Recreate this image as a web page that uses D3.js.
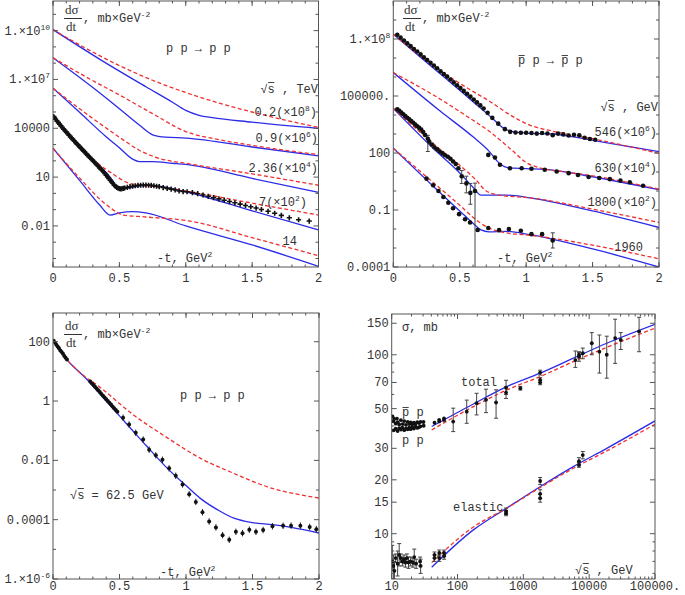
<!DOCTYPE html>
<html><head><meta charset="utf-8">
<script src="https://cdn.jsdelivr.net/npm/d3@7/dist/d3.min.js"></script>
<style>
body{margin:0;background:#fff}
svg text{font-family:"Liberation Mono","DejaVu Sans Mono",monospace;font-size:12px;fill:#333}
</style></head><body>
<svg id="c" width="685" height="595"></svg>
<script>
// ---------------- DATA ----------------
// Panel 1: pp -> pp, dσ/dt vs -t (scaled)
const pp02Blue = [[0,1.15e10],[0.35,1.78e8],[0.7,3.55e6],[0.9,3.98e5],[1.0,1.26e5],[1.1,6.31e4],[1.2,4.47e4],[1.5,2.4e4],[2,1.0e4]];
const pp02Red  = [[0,1.15e10],[0.25,7.94e8],[0.5,7.08e7],[0.75,8.91e6],[1,1.58e6],[1.25,3.55e5],[1.5,1.0e5],[1.75,3.16e4],[2,1.15e4]];
const pp09Blue = [[0,2.14e8],[0.3,3.16e6],[0.5,1.58e5],[0.65,1.58e4],[0.75,3.98e3],[0.85,2.82e3],[1.0,2.51e3],[1.5,708],[2,200]];
const pp09Red  = [[0,2.14e8],[0.25,1.41e7],[0.5,1.12e6],[0.75,7.94e4],[1.0,6.31e3],[1.25,2.0e3],[1.5,891],[2,240]];
const pp236Blue= [[0,2.88e6],[0.2,9.55e4],[0.4,3.02e3],[0.5,631],[0.6,126],[0.65,89.1],[0.75,89.1],[0.9,70.8],[1.0,60.3],[1.5,8.32],[2,1.15]];
const pp236Red = [[0,2.88e6],[0.3,3.98e4],[0.5,2.82e3],[0.65,447],[0.8,141],[1.0,70.8],[1.5,15.8],[2,3.16]];
const pp7Blue  = [[0,5.89e4],[0.15,2.0e3],[0.3,112],[0.43,10],[0.48,2.51],[0.52,1.91],[0.58,2.24],[0.7,3.16],[0.8,2.82],[1.0,1.26],[1.5,0.0851],[2,0.00575]];
const pp7Red   = [[0,5.89e4],[0.15,2.0e3],[0.3,126],[0.45,15.8],[0.55,5.01],[0.65,3.16],[0.8,2.51],[1.0,1.41],[1.5,0.251],[2,0.0468]];
const pp14Blue = [[0,589],[0.2,6.31],[0.35,0.2],[0.43,0.0468],[0.5,0.0631],[0.6,0.0759],[0.7,0.0631],[1.0,0.01],[1.5,6.76e-4],[2,3.31e-5]];
const pp14Red  = [[0,589],[0.2,8.91],[0.405,0.191],[0.53,0.0468],[0.7,0.0355],[1.03,0.02],[1.5,0.0019],[2,1.48e-4]];
const pp7Data = [[0.005,5.25e4],[0.01,4.57e4],[0.02,3.55e4],[0.03,2.82e4],[0.04,2.24e4],[0.05,1.78e4],[0.06,1.41e4],[0.07,1.12e4],[0.08,8.91e3],[0.09,7.24e3],[0.10,5.89e3],[0.11,4.79e3],[0.12,3.8e3],[0.13,3.09e3],[0.14,2.51e3],[0.15,2.04e3],[0.16,1.66e3],[0.17,1.35e3],[0.18,1.1e3],[0.19,912],[0.20,741],[0.21,603],[0.22,501],[0.23,407],[0.24,339],[0.25,275],[0.26,224],[0.27,186],[0.28,155],[0.29,126],[0.30,105],[0.31,87.1],[0.32,70.8],[0.33,57.5],[0.34,46.8],[0.35,38.0],[0.36,31.6],[0.37,26.3],[0.38,21.4],[0.39,16.6],[0.40,13.2],[0.41,10.5],[0.42,8.32],[0.43,6.61],[0.44,5.25],[0.45,4.17],[0.46,3.31],[0.47,2.75],[0.48,2.34],[0.49,2.09],[0.50,1.95],[0.51,1.91],[0.52,1.95],[0.53,2.04],[0.54,2.14],[0.56,2.34],[0.58,2.57],[0.60,2.75],[0.62,2.95],[0.64,3.09],[0.66,3.16],[0.68,3.24],[0.70,3.24],[0.72,3.16],[0.74,3.09],[0.76,2.95],[0.78,2.75],[0.80,2.57],[0.83,2.29],[0.86,2.04],[0.89,1.82],[0.92,1.62],[0.95,1.41],[0.98,1.3],[1.01,1.26],[1.05,1.12],[1.09,0.955],[1.13,0.794],[1.17,0.661],[1.21,0.55],[1.25,0.457],[1.29,0.38],[1.33,0.316],[1.37,0.263],[1.41,0.219],[1.45,0.182],[1.49,0.151],[1.53,0.126],[1.57,0.102],[1.62,0.0794],[1.67,0.0603],[1.72,0.0447],[1.78,0.0316],[1.85,0.024],[1.93,0.02]];

// Panel 2: pbar p -> pbar p
const pb546Blue = [[0,1.78e8],[0.2,1.17e7],[0.4,7.94e5],[0.6,5.01e4],[0.75,6.31e3],[0.83,2.0e3],[0.9,1.32e3],[1.0,1.12e3],[1.2,1.0e3],[1.4,631],[1.6,355],[2,117]];
const pb546Red  = [[0,1.78e8],[0.35,2.24e6],[0.55,2.82e5],[0.73,5.01e4],[0.88,1.0e4],[1.03,2.88e3],[1.2,1.41e3],[1.5,562],[2,95.5]];
const pb630Blue = [[0,1.7e6],[0.35,1.66e4],[0.6,708],[0.72,126],[0.8,28.2],[0.87,16.6],[1.0,15.1],[1.2,12.6],[1.5,5.62],[2,1.17]];
const pb630Red  = [[0,1.7e6],[0.35,7.08e4],[0.55,8.91e3],[0.73,1.26e3],[0.9,126],[1.0,31.6],[1.1,16.6],[1.3,10],[1.5,6.31],[2,1.26]];
const pb1800Blue= [[0,2.24e4],[0.3,178],[0.5,8.91],[0.6,1.58],[0.66,0.603],[0.72,0.603],[0.85,0.603],[1.03,0.437],[1.5,0.0891],[2,0.012]];
const pb1800Red = [[0,2.24e4],[0.3,316],[0.5,22.4],[0.62,3.98],[0.7,1.0],[0.8,0.603],[1.03,0.437],[1.5,0.112],[2,0.0219]];
const pb1960Blue= [[0,178],[0.3,1.78],[0.5,0.0891],[0.6,0.02],[0.66,0.00891],[0.72,0.00708],[0.85,0.00759],[1.03,0.00501],[1.5,8.91e-4],[2,1e-4]];
const pb1960Red = [[0,178],[0.3,2.82],[0.5,0.178],[0.62,0.0316],[0.72,0.0112],[0.85,0.00631],[1.03,0.00468],[1.5,0.00141],[2,2.69e-4]];
const pb546Data = [[0.03,1.66e8],[0.055,1.18e8],[0.08,8.3e7],[0.105,5.9e7],[0.13,4.2e7],[0.155,3.0e7],[0.18,2.2e7],[0.205,1.55e7],[0.23,1.1e7],[0.255,7.9e6],[0.28,5.6e6],[0.305,4.0e6],[0.33,2.9e6],[0.355,2.0e6],[0.38,1.45e6],[0.405,1.05e6],[0.43,7.4e5],[0.455,5.2e5],[0.48,3.7e5],[0.505,2.6e5],[0.53,1.86e5],[0.555,1.32e5],[0.58,9.3e4],[0.605,6.6e4],[0.63,4.6e4],[0.655,3.2e4],[0.68,2.2e4],[0.71,1.3e4],[0.745,7.1e3],[0.79,3.5e3],[0.84,1.8e3],[0.88,1.3e3],[0.92,1.2e3],[0.96,1.17e3],[1.0,1.17e3],[1.04,1.12e3],[1.08,1.05e3],[1.12,1.12e3],[1.16,1.07e3],[1.2,870],[1.24,1.05e3],[1.28,950],[1.32,830],[1.36,910],[1.4,850],[1.44,630],[1.48,550],[1.52,500]];
const pb630Data = [[0.715,79.4],[0.765,57.5],[0.803,24.0],[0.878,15.8],[0.966,15.8],[1.04,14.8],[1.14,13.2],[1.23,10.7],[1.32,8.7],[1.39,6.9],[1.47,5.5],[1.55,4.8],[1.63,4.2],[1.71,3.5],[1.78,2.9],[1.88,1.9]];
const pb1800Data = [[0.03,2.0e4],[0.045,1.66e4],[0.06,1.35e4],[0.075,1.1e4],[0.09,8.9e3],[0.105,7.2e3],[0.12,5.9e3],[0.135,4.8e3],[0.15,3.9e3],[0.165,3.16e3],[0.18,2.57e3],[0.195,2.09e3],[0.21,1.7e3],[0.225,1.26e3],[0.24,891],[0.26,562],[0.27,398],[0.29,282],[0.31,200],[0.33,158],[0.35,120],[0.37,95.5],[0.39,75.9],[0.41,63.1],[0.43,50.1],[0.45,35.5],[0.47,26.3],[0.49,15.8],[0.515,5.89],[0.55,2.51],[0.58,0.794],[0.615,1.0]];
const pb1800Err = [[0.26,562,120,850],[0.515,5.89,2.5,12],[0.55,2.51,0.8,6],[0.58,0.794,0.2,2.5],[0.615,1.0,1e-5,2.6]];
const pb1960Data = [[0.25,4.47],[0.3,2.0],[0.34,1.0],[0.377,0.479],[0.414,0.24],[0.45,0.123],[0.495,0.0603],[0.54,0.0324],[0.578,0.0219],[0.635,0.00891],[0.715,0.0112],[0.796,0.00871],[0.87,0.01],[0.96,0.00813],[1.04,0.00537],[1.12,0.00537],[1.2,0.00251]];
const pb1960Err = [[1.2,0.00251,0.001,0.00631]];

// Panel 3: pp at 62.5 GeV
const isrBlue = [[0,115],[0.1,26.3],[0.25,5.62],[0.4,1.0],[0.5,0.316],[0.6,0.1],[0.7,0.0316],[0.86,0.00537],[1.0,0.00141],[1.11,5.13e-4],[1.25,2.0e-4],[1.36,1.12e-4],[1.5,7.94e-5],[1.65,6.76e-5],[1.8,5.37e-5],[2,3.55e-5]];
const isrRed  = [[0,115],[0.1,26.3],[0.2,9.33],[0.355,2.88],[0.6,0.355],[0.86,0.0575],[1.11,0.0117],[1.36,0.00363],[1.61,0.00129],[2,5.37e-4]];
const isrData = [[0.005,107],[0.015,93],[0.025,79],[0.035,69],[0.045,60],[0.055,51],[0.065,45],[0.075,39],[0.085,33],[0.095,29],[0.105,25],
 [0.28,4.57],[0.292,3.98],[0.304,3.47],[0.316,3.02],[0.328,2.63],[0.34,2.29],[0.352,2.0],[0.364,1.74],[0.376,1.51],[0.388,1.32],[0.4,1.15],[0.412,1.0],[0.424,0.871],[0.436,0.759],[0.448,0.661],[0.46,0.575],[0.472,0.501],[0.484,0.437],
 [0.527,0.275],[0.572,0.162],[0.622,0.0851],[0.678,0.0501],[0.723,0.0229],[0.773,0.0148],[0.823,0.0105],[0.873,0.00537],[0.923,0.00302],[0.974,0.00155],[1.024,7.24e-4],[1.074,3.98e-4],[1.124,1.78e-4],[1.174,8.71e-5],[1.225,5.5e-5],[1.275,3.0e-5],[1.325,2.1e-5],[1.375,3.9e-5],[1.425,3.5e-5],[1.476,4.6e-5],[1.526,3.9e-5],[1.58,4.5e-5],[1.65,6.0e-5],[1.73,6.2e-5],[1.79,6.3e-5],[1.86,6.3e-5],[1.93,5.7e-5],[1.98,4.8e-5]];

// Panel 4: σ vs √s
const totBlue = [[40.5,39.7],[174,53.1],[560,66.4],[1795,78.9],[5750,95.7],[18500,116],[100000,148]];
const totRed  = [[40.5,38.0],[174,51.3],[560,63.6],[1795,75.5],[5750,91.6],[18500,110],[100000,141]];
const elBlue  = [[40.5,6.49],[174,10.5],[560,13.9],[1795,18.3],[5750,23.7],[18500,30.0],[100000,42.7]];
const elRed   = [[40.5,6.89],[174,10.9],[560,13.9],[1795,18.1],[5750,23.2],[18500,29.0],[100000,40.9]];
const totPP   = [[10.7,37.8],[11.5,38.6],[12.3,37.5],[13.0,38.9],[13.8,38.2],[14.5,39.2],[15.5,37.9],[16.5,38.8],[17.5,38.3],[18.5,39.1],[19.4,38.4],[20.5,39.3],[21.7,38.7],[23.0,39.6],[24.5,39.0],[26.0,39.4],[27.4,39.8],[30.6,40.1],[44.7,41.7],[52.8,42.4],[62.5,43.2]];
const totPPbar= [[10.3,45.2],[10.6,42.5],[10.9,43.8],[11.5,41.2],[12.0,44.0],[12.3,42.0],[13.0,40.8],[13.8,43.1],[14.7,41.0],[15.5,42.6],[16.5,40.6],[17.5,42.2],[18.5,41.0],[19.4,41.9],[20.5,40.7],[21.7,41.7],[23.0,41.2],[24.5,42.0],[26.0,41.5],[27.4,42.2],[30.4,42.1],[52.6,43.3],[62.3,44.1]];
const totHigh = [[86,42.3,37.2,50.3],[138,48.1,41.4,55.8],[195,53.6,46.1,60.9],[271,56,47.5,64.2],[385,54.1,44.2,63.7],[546,61.5,57,66],[546,65.5,60,72],[900,65,63.5,66.5],[1800,79.5,77,82],[1800,72.4,70,74.5],[1800,70,68,72],[6170,93.4,85,105],[7000,97.8,92,104],[7000,100,96,103],[8000,102,95,109],[10960,116,100,133],[14300,104,79,129],[18500,100,74,127],[24800,124,89.5,158],[30200,121,107,133],[57300,135,104,162]];
const elData  = [[10.2,7.0,6.2,8.6],[10.6,6.6,5.6,7.6],[11.0,6.2,5.4,7.0],[11.5,7.3,6.9,7.7],[12.3,6.8,5.8,8.0],[13.0,7.6,6.6,8.8],[13.7,7.3,6.9,7.7],[14.5,7.0,6.6,7.4],[15.4,7.2,6.8,7.6],[16.2,6.9,6.5,7.3],[17.0,7.3,6.9,7.7],[18.0,6.9,6.4,7.4],[19.4,7.0,6.6,7.4],[21.0,6.9,6.5,7.3],[22.0,7.4,6.7,8.2],[23.5,6.8,6.4,7.2],[27.0,7.0,6.6,7.4],[27.5,6.6,6.0,7.2],[44.7,7.3,7.0,7.6],[44.7,7.6,7.3,7.9],[52.8,7.3,7.0,7.6],[52.8,7.8,7.5,8.1],[62.5,7.5,7.2,7.8],[62.5,7.8,7.5,8.1],[546,13.3,12.8,13.9],[546,13.0,12.6,13.5],[1800,19.7,18.8,20.6],[1800,16.7,15.8,17.6],[1800,15.8,15.0,16.6],[7000,25.4,24.2,26.6],[7000,24.2,23.5,24.9],[8000,27.5,26.2,28.8]];

// Tick labels
const tTicks = [[0,"0"],[0.5,"0.5"],[1,"1"],[1.5,"1.5"],[2,"2"]];
const p1YTicks = [[1e10,"1.×10","10"],[1e7,"1.×10","7"],[1e4,"10000"],[10,"10"],[0.01,"0.01"]];
const p2YTicks = [[1e8,"1.×10","8"],[1e5,"100000."],[100,"100"],[0.1,"0.1"],[1e-4,"0.0001"]];
const p3YTicks = [[100,"100"],[1,"1"],[0.01,"0.01"],[1e-4,"0.0001"],[1e-6,"1.×10","-6"]];
const p4YTicks = [[10,"10"],[15,"15"],[20,"20"],[30,"30"],[50,"50"],[70,"70"],[100,"100"],[150,"150"]];
const p4XTicks = [[10,"10"],[100,"100"],[1000,"1000"],[10000,"10000"],[100000,"100000."]];

// ---------------- DRAW ----------------
const svg = d3.select('#c');
const defs = svg.append('defs');
const BLUE = '#2b2be8', RED = '#f03030', FR = '#555';
let cid = 0;

function makePanel(c){
  const x = (c.xlog ? d3.scaleLog() : d3.scaleLinear()).domain(c.xd).range([c.l, c.r]);
  const y = d3.scaleLog().domain(c.yd).range([c.b, c.t]);
  const id = 'cp' + (cid++);
  defs.append('clipPath').attr('id', id).append('rect')
    .attr('x', c.l).attr('y', c.t).attr('width', c.r - c.l).attr('height', c.b - c.t);
  const g = svg.append('g');
  const plot = g.append('g').attr('clip-path', `url(#${id})`);
  return Object.assign({}, c, {x, y, g, plot});
}
function frame(p){
  p.g.append('rect').attr('x', p.l).attr('y', p.t).attr('width', p.r - p.l).attr('height', p.b - p.t)
    .attr('fill', 'none').attr('stroke', FR).attr('stroke-width', 1);
}
function xTicks(p, vals, len){
  vals.forEach(v => { const xx = p.x(v);
    p.g.append('line').attr('x1', xx).attr('x2', xx).attr('y1', p.b).attr('y2', p.b - len).attr('stroke', FR);
    p.g.append('line').attr('x1', xx).attr('x2', xx).attr('y1', p.t).attr('y2', p.t + len).attr('stroke', FR);
  });
}
function yTicks(p, vals, len){
  vals.forEach(v => { const yy = p.y(v);
    p.g.append('line').attr('x1', p.l).attr('x2', p.l + len).attr('y1', yy).attr('y2', yy).attr('stroke', FR);
    p.g.append('line').attr('x1', p.r).attr('x2', p.r - len).attr('y1', yy).attr('y2', yy).attr('stroke', FR);
  });
}
function xLabels(p, ticks, yb){
  ticks.forEach(d => p.g.append('text').attr('x', p.x(d[0])).attr('y', yb).attr('text-anchor', 'middle').text(d[1]));
}
function yLabels(p, ticks){
  ticks.forEach(d => {
    const t = p.g.append('text').attr('x', p.l - 3).attr('y', p.y(d[0]) + 4).attr('text-anchor', 'end');
    t.append('tspan').text(d[1]);
    if (d[2]) t.append('tspan').attr('dy', -5).attr('font-size', 8).text(d[2]);
  });
}
function curve(p, data, color, dashed){
  const line = d3.line().x(d => p.x(d[0])).y(d => p.y(d[1])).curve(d3.curveMonotoneX);
  p.plot.append('path').attr('d', line(data)).attr('fill', 'none').attr('stroke', color)
    .attr('stroke-width', 1.3).attr('stroke-dasharray', dashed ? '4,2.5' : null);
}
function dots(p, data, r){
  p.plot.selectAll(null).data(data).enter().append('circle')
    .attr('cx', d => p.x(d[0])).attr('cy', d => p.y(d[1])).attr('r', r).attr('fill', '#111');
}
function crosses(p, data, s){
  p.plot.selectAll(null).data(data).enter().append('path')
    .attr('d', d => { const X = p.x(d[0]), Y = p.y(d[1]); return `M${X-s},${Y}h${2*s}M${X},${Y-s}v${2*s}`; })
    .attr('stroke', '#111').attr('stroke-width', 1.6);
}
function errs(p, data){
  data.forEach(d => { const X = p.x(d[0]);
    p.plot.append('line').attr('x1', X).attr('x2', X).attr('y1', p.y(d[2])).attr('y2', p.y(d[3])).attr('stroke', '#444').attr('stroke-width', 1);
    [d[2], d[3]].forEach(v => p.plot.append('line').attr('x1', X - 2).attr('x2', X + 2).attr('y1', p.y(v)).attr('y2', p.y(v)).attr('stroke', '#444'));
  });
}
function minibars(p, data, h){
  p.plot.selectAll(null).data(data).enter().append('line')
    .attr('x1', d => p.x(d[0])).attr('x2', d => p.x(d[0]))
    .attr('y1', d => p.y(d[1]) - h).attr('y2', d => p.y(d[1]) + h).attr('stroke', '#222');
}
function txt(g, x, y, s, anchor){
  return g.append('text').attr('x', x).attr('y', y).attr('text-anchor', anchor || 'start').attr('fill', '#444').text(s);
}
function txtSup(g, x, y, a, sup, b, anchor){
  const t = g.append('text').attr('x', x).attr('y', y).attr('text-anchor', anchor || 'start').attr('fill', '#444');
  t.append('tspan').text(a);
  t.append('tspan').attr('dy', -5).attr('font-size', 8).text(sup);
  if (b) t.append('tspan').attr('dy', 5).text(b);
  return t;
}
function overline(g, t, idx, yb){
  const e = t.node().getExtentOfChar(idx);
  g.append('line').attr('x1', e.x + 0.5).attr('x2', e.x + e.width - 0.5).attr('y1', yb).attr('y2', yb).attr('stroke', '#444').attr('stroke-width', 1);
}
function sqrtS(g, x, y, rest, anchor){
  const t = txt(g, x, y, '√s' + rest, anchor);
  overline(g, t, 1, y - 10.5);
  return t;
}
function dsdt(g, x, yb){
  g.append('text').attr('x', x).attr('y', yb).style('font-family', 'Liberation Serif, serif').style('font-size', '13px').attr('fill', '#333').text('dσ');
  g.append('line').attr('x1', x - 1).attr('x2', x + 17).attr('y1', yb + 4.5).attr('y2', yb + 4.5).attr('stroke', '#333');
  g.append('text').attr('x', x + 1).attr('y', yb + 17).style('font-family', 'Liberation Serif, serif').style('font-size', '13px').attr('fill', '#333').text('dt');
  txtSup(g, x + 18, yb + 8, ', mb×GeV', '-2');
}

const tMinor = d3.range(0, 2.001, 0.1);
const tMajor = tTicks.map(d => d[0]);

// ---- Panel 1 ----
const P1 = makePanel({l: 53, r: 318.5, t: 1, b: 267, xd: [0, 2], yd: [3.0e-5, 6.6e11]});
[[pp02Blue, pp02Red], [pp09Blue, pp09Red], [pp236Blue, pp236Red], [pp7Blue, pp7Red], [pp14Blue, pp14Red]].forEach(pr => { curve(P1, pr[0], BLUE, false); curve(P1, pr[1], RED, true); });
crosses(P1, pp7Data, 2.6);
frame(P1);
xTicks(P1, tMinor, 2.5); xTicks(P1, tMajor, 5);
yTicks(P1, [1e11, 1e9, 1e8, 1e6, 1e5, 1000, 100, 1, 0.1, 0.001, 1e-4], 3);
yTicks(P1, p1YTicks.map(d => d[0]), 5);
xLabels(P1, tTicks, 282);
yLabels(P1, p1YTicks);
dsdt(P1.g, 65, 14);
txt(P1.g, 166, 52, 'p p → p p');
sqrtS(P1.g, 318, 93, ' , TeV', 'end');
txtSup(P1.g, 317, 116, '0.2(×10', '8', ')', 'end');
txtSup(P1.g, 318, 142, '0.9(×10', '6', ')', 'end');
txtSup(P1.g, 318, 172, '2.36(×10', '4', ')', 'end');
txtSup(P1.g, 307, 206, '7(×10', '2', ')', 'end');
txt(P1.g, 297, 245, '14', 'end');
txtSup(P1.g, 157, 262, '-t, GeV', '2');

// ---- Panel 2 ----
const P2 = makePanel({l: 393.3, r: 659, t: 1, b: 267, xd: [0, 2], yd: [1e-4, 1e10]});
[[pb546Blue, pb546Red], [pb630Blue, pb630Red], [pb1800Blue, pb1800Red], [pb1960Blue, pb1960Red]].forEach(pr => { curve(P2, pr[0], BLUE, false); curve(P2, pr[1], RED, true); });
errs(P2, pb1800Err); errs(P2, pb1960Err);
dots(P2, pb546Data, 2.3); dots(P2, pb630Data, 2.3); dots(P2, pb1800Data, 2.3); dots(P2, pb1960Data, 2.3);
frame(P2);
xTicks(P2, tMinor, 2.5); xTicks(P2, tMajor, 5);
yTicks(P2, [1e9, 1e7, 1e6, 1e4, 1000, 10, 1, 0.01, 0.001], 3);
yTicks(P2, p2YTicks.map(d => d[0]), 5);
xLabels(P2, tTicks, 282);
yLabels(P2, p2YTicks);
dsdt(P2.g, 404, 14);
{ const t = txt(P2.g, 518, 64, 'p p → p p'); overline(P2.g, t, 0, 55.5); overline(P2.g, t, 6, 55.5); }
sqrtS(P2.g, 658, 111, ' , GeV', 'end');
txtSup(P2.g, 657, 136, '546(×10', '6', ')', 'end');
txtSup(P2.g, 657, 172, '630(×10', '4', ')', 'end');
txtSup(P2.g, 657, 206, '1800(×10', '2', ')', 'end');
txt(P2.g, 643, 251, '1960', 'end');
txtSup(P2.g, 497, 262, '-t, GeV', '2');

// ---- Panel 3 ----
const P3 = makePanel({l: 53, r: 319, t: 313, b: 579, xd: [0, 2], yd: [1e-6, 930]});
curve(P3, isrBlue, BLUE, false); curve(P3, isrRed, RED, true);
minibars(P3, isrData.filter(d => d[0] > 0.5), 3.2);
dots(P3, isrData, 2);
frame(P3);
xTicks(P3, tMinor, 2.5); xTicks(P3, tMajor, 5);
yTicks(P3, [10, 0.1, 0.001, 1e-5], 3);
yTicks(P3, p3YTicks.map(d => d[0]), 5);
xLabels(P3, tTicks, 590);
yLabels(P3, p3YTicks);
dsdt(P3.g, 65, 330);
txt(P3.g, 180, 399, 'p p → p p');
sqrtS(P3.g, 70, 499, ' = 62.5 GeV');
txtSup(P3.g, 160, 576, '-t, GeV', '2');

// ---- Panel 4 ----
const P4 = makePanel({l: 391.7, r: 655, t: 314, b: 579, xlog: true, xd: [10, 1e5], yd: [5.58, 169]});
curve(P4, totBlue, BLUE, false); curve(P4, totRed, RED, true);
curve(P4, elBlue, BLUE, false); curve(P4, elRed, RED, true);
errs(P4, totHigh); errs(P4, elData);
dots(P4, totPP, 1.9); dots(P4, totPPbar, 1.9); dots(P4, totHigh, 1.9); dots(P4, elData, 1.9);
frame(P4);
const p4xMinor = [];
[10, 100, 1000, 10000].forEach(dec => [2,3,4,5,6,7,8,9].forEach(m => p4xMinor.push(dec * m)));
xTicks(P4, p4xMinor, 2.5); xTicks(P4, p4XTicks.map(d => d[0]), 5);
yTicks(P4, [6,7,8,9,40,60,80,90], 2.5);
yTicks(P4, p4YTicks.map(d => d[0]), 5);
xLabels(P4, p4XTicks, 590);
yLabels(P4, p4YTicks);
txt(P4.g, 402, 331, 'σ, mb');
txt(P4.g, 461, 386, 'total');
{ const t = txt(P4.g, 402, 416, 'p p'); overline(P4.g, t, 0, 407.5); }
txt(P4.g, 402, 444, 'p p');
txt(P4.g, 453, 511, 'elastic');
sqrtS(P4.g, 575, 574, ' , GeV');
</script>
</body></html>
